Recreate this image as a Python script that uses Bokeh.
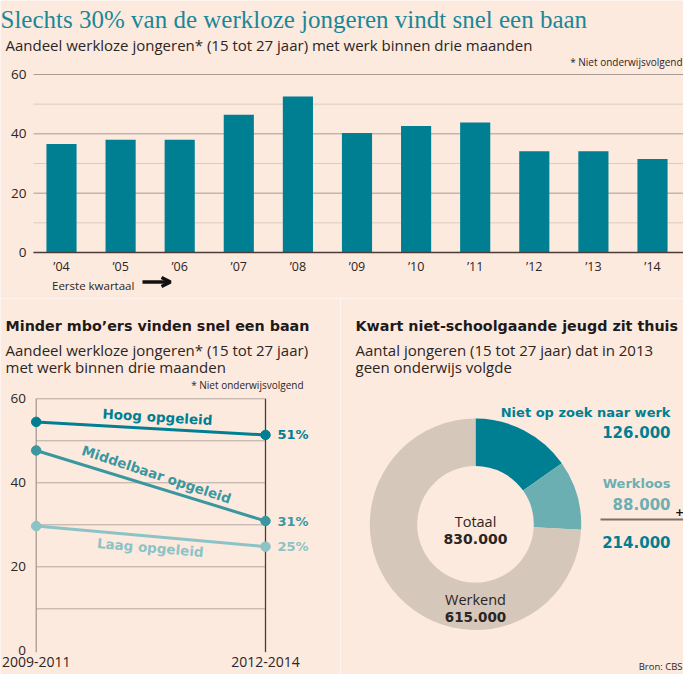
import math
from bokeh.plotting import figure
from bokeh.models import (ColumnDataSource, FixedTicker, Label, LabelSet, Arrow,
                          OpenHead, Range1d, LinearAxis, AllLabels)
from bokeh.layouts import column, row
from bokeh.embed import file_html
from bokeh.resources import INLINE
from bokeh.core.properties import value

# ---------------- data ----------------
years = ["’04", "’05", "’06", "’07", "’08", "’09", "’10", "’11", "’12", "’13", "’14"]
share = [36.6, 38.0, 38.0, 46.4, 52.6, 40.3, 42.6, 43.8, 34.1, 34.1, 31.5]
bar_ticks = [0, 20, 40, 60]
bar_minor_ticks = [10, 30, 50]

periods = ["2009-2011", "2012-2014"]
levels = ["Hoog opgeleid", "Middelbaar opgeleid", "Laag opgeleid"]
hoog = [54.5, 51.4]
middelbaar = [47.7, 30.9]
laag = [29.7, 24.8]
line_ticks = [0, 20, 40, 60]
line_grid = [10, 20, 30, 40, 50, 60]

groups = ["Niet op zoek naar werk", "Werkloos", "Werkend"]
counts = [126000, 88000, 615000]
total = 830000

# ---------------- style ----------------
BG = "#FDEADF"
TEAL = "#007F92"
TEAL_MID = "#3A979F"
TEAL_LIGHT = "#8CC3C6"
TEAL_SLICE = "#6BAFB3"
BEIGE = "#D5C7BA"
DARK = "#2B2523"
SANS = "Open Sans"
BOLD = "DejaVu Sans"
SERIF = "Liberation Serif"


def fmt(n):
    return f"{n:,}".replace(",", ".")


def base_fig(xr, yr, w, h):
    f = figure(x_range=xr, y_range=yr, width=w, height=h, output_backend="svg",
               toolbar_location=None, x_axis_location=None, y_axis_location=None,
               min_border=0, background_fill_color=BG, border_fill_color=BG,
               outline_line_color=None)
    f.xgrid.grid_line_color = None
    f.ygrid.grid_line_color = None
    return f


def style_axis(ax, size, standoff):
    ax.axis_line_color = None
    ax.major_tick_line_color = None
    ax.minor_tick_line_color = None
    ax.major_tick_out = 0
    ax.major_tick_in = 0
    ax.minor_tick_out = 0
    ax.minor_tick_in = 0
    ax.major_label_text_font = SANS
    ax.major_label_text_font_size = size
    ax.major_label_text_color = DARK
    ax.major_label_standoff = standoff
    ax.major_label_policy = AllLabels()


def lab(f, x, y, text, size, color=DARK, font=SANS, bold=False, align="left",
        baseline="alphabetic", angle=0.0, units="screen"):
    f.add_layout(Label(x=x, y=y, x_units=units, y_units=units, text=text, text_font=font,
                       text_font_size=size, text_font_style="bold" if bold else "normal",
                       text_color=color, text_align=align, text_baseline=baseline,
                       angle=angle))


# ================= top: bar chart (683 x 298) =================
W1, H1 = 683, 298
X0, DX = 61.0, 59.1            # pixel of first bar centre, pixels per bar slot
Y0, DY = 252.0, 178.0 / 60     # pixel of zero line, pixels per percentage point
xr1 = Range1d(-X0 / DX, (W1 - X0) / DX)
yr1 = Range1d(-(H1 - Y0) / DY, Y0 / DY)
p1 = base_fig(xr1, yr1, W1, H1)
xs1 = list(range(len(years)))
x_axis_pos = (33 - X0) / DX

# gridlines
p1.segment(x0=[x_axis_pos] * len(bar_minor_ticks), x1=[xr1.end] * len(bar_minor_ticks),
           y0=bar_minor_ticks, y1=bar_minor_ticks, line_color="#DCCBBF", line_width=1)
p1.segment(x0=[x_axis_pos] * len(bar_ticks), x1=[xr1.end] * len(bar_ticks),
           y0=bar_ticks, y1=bar_ticks, line_color="#A89C93", line_width=1)
p1.vbar(x=xs1, top=share, width=0.51, fill_color=TEAL, line_color=None)

ya = LinearAxis(ticker=FixedTicker(ticks=bar_ticks), fixed_location=x_axis_pos, bounds=(0, 60))
style_axis(ya, "13.5px", 7)
p1.add_layout(ya, "left")
xa = LinearAxis(ticker=FixedTicker(ticks=xs1), fixed_location=0,
                bounds=(x_axis_pos, xr1.end),
                major_label_overrides={i: y for i, y in zip(xs1, years)})
style_axis(xa, "12.5px", 5)
xa.axis_line_color = "#4A3D37"
xa.axis_line_width = 1.6
p1.add_layout(xa, "below")

lab(p1, 0, H1 - 18.5, "Slechts 30% van de werkloze jongeren vindt snel een baan",
    "25px", "#1A8797", font=SERIF)
lab(p1, 5, H1 - 44, "Aandeel werkloze jongeren* (15 tot 27 jaar) met werk binnen drie maanden",
    "15px")
lab(p1, 682, H1 - 61, "* Niet onderwijsvolgend", "10px", align="right")
lab(p1, 51.5, H1 - 284.5, "Eerste kwartaal", "11.5px")
p1.add_layout(Arrow(x_start=142, y_start=H1 - 281.5, x_end=170, y_end=H1 - 281.5,
                    start_units="screen", end_units="screen", line_width=3.4,
                    line_color="#111111",
                    end=OpenHead(size=9, line_width=3.4, line_color="#111111")))

# ================= bottom left: line chart (340 x 376) =================
W2, H2, TOP2 = 340, 376, 298
LX0, LDX = 35.7, 229.3           # pixel of first period, pixels between periods
LY0, LDY = 650.3 - TOP2, 4.2     # pixel (local) of zero, pixels per point
xr2 = Range1d(-LX0 / LDX, (W2 - LX0) / LDX)
yr2 = Range1d(-(H2 - LY0) / LDY, LY0 / LDY)
p2 = base_fig(xr2, yr2, W2, H2)
xs = list(range(len(periods)))

p2.segment(x0=[xs[0]] * len(line_grid), x1=[xs[-1]] * len(line_grid), y0=line_grid,
           y1=line_grid, line_color="#B3A79E", line_width=1)
p2.segment(x0=[xs[0]], x1=[xs[0]], y0=[-0.33], y1=[line_ticks[-1]], line_color="#A0948B",
           line_width=1.2)
p2.segment(x0=[xs[-1]], x1=[xs[-1]], y0=[-0.33], y1=[line_ticks[-1]], line_color="#4A3D37",
           line_width=1.3)

series = [(hoog, TEAL), (middelbaar, TEAL_MID), (laag, TEAL_LIGHT)]
for vals, col in series:
    p2.line(xs, vals, line_color=col, line_width=3)
    p2.scatter(xs, vals, size=9.5, fill_color=col, line_color=col)

ends = [hoog[-1], middelbaar[-1], laag[-1]]
end_src = ColumnDataSource(dict(x=[xs[-1]] * 3, y=ends, t=[f"{round(v)}%" for v in ends],
                                c=[TEAL, TEAL_MID, TEAL_LIGHT]))
p2.add_layout(LabelSet(x="x", y="y", text="t", source=end_src, x_offset=12,
                       text_color="c", text_font=value(BOLD), text_font_style="bold",
                       text_font_size=value("13px"), text_baseline="middle"))

name_pos = [(0.529, 55.7, -0.06, TEAL), (0.525, 42.0, -0.32, TEAL_MID),
            (0.498, 24.6, -0.085, TEAL_LIGHT)]
for name, (lx, ly, ang, col) in zip(levels, name_pos):
    lab(p2, lx, ly, name, "13.5px", col, font=BOLD, bold=True, align="center",
        baseline="middle", angle=ang, units="data")

ya2 = LinearAxis(ticker=FixedTicker(ticks=line_ticks), fixed_location=-0.001,
                 bounds=(-0.5, line_ticks[-1] + 0.5))
style_axis(ya2, "13.5px", 10)
p2.add_layout(ya2, "left")
xa2 = LinearAxis(ticker=FixedTicker(ticks=xs), fixed_location=-0.8, bounds=(xs[0], xs[-1]),
                 major_label_overrides={i: s for i, s in zip(xs, periods)})
style_axis(xa2, "14px", 3)
p2.add_layout(xa2, "below")

lab(p2, 5, 674 - 325, "Minder mbo’ers vinden snel een baan", "14.3px", "#1E1A19",
    font=BOLD, bold=True)
lab(p2, 5, 674 - 349.3, "Aandeel werkloze jongeren* (15 tot 27 jaar)", "15px")
lab(p2, 5, 674 - 366, "met werk binnen drie maanden", "15px")
lab(p2, 303, 674 - 384, "* Niet onderwijsvolgend", "10px", align="right")

# ================= bottom right: donut (343 x 376) =================
CX, CY = 475, 523.8
p3 = base_fig(Range1d(340 - CX, 683 - CX), Range1d(CY - 674, CY - 298), 343, 376)

ssum = sum(counts)
cum = [0]
for c in counts:
    cum.append(cum[-1] + c)
starts = [math.pi / 2 - 2 * math.pi * cum[i] / ssum for i in range(len(counts))]
stops = [math.pi / 2 - 2 * math.pi * cum[i + 1] / ssum for i in range(len(counts))]
donut = ColumnDataSource(dict(g=groups, v=counts, s=starts, e=stops,
                              c=[TEAL, TEAL_SLICE, BEIGE]))
p3.annular_wedge(x=0, y=0, inner_radius=58.3, outer_radius=105.7, start_angle="s",
                 end_angle="e", direction="clock", fill_color="c", line_color=None,
                 source=donut)
p3.segment(x0=[600 - CX], x1=[683 - CX], y0=[CY - 519], y1=[CY - 519],
           line_color="#7D6F67", line_width=2)


def t3(x, y, text, size, color=DARK, bold=False, align="left", baseline="alphabetic"):
    lab(p3, x - CX, CY - y, text, size, color, font=BOLD if bold else SANS, bold=bold,
        align=align, baseline=baseline, units="data")


t3(355, 325, "Kwart niet-schoolgaande jeugd zit thuis", "14.3px", "#1E1A19", bold=True)
t3(355, 349.3, "Aantal jongeren (15 tot 27 jaar) dat in 2013", "15px")
t3(355, 366, "geen onderwijs volgde", "15px")
t3(670, 411.7, groups[0], "13px", TEAL, bold=True, align="right")
t3(670, 431.7, fmt(counts[0]), "15px", TEAL, bold=True, align="right")
t3(670, 483.3, groups[1], "13px", TEAL_SLICE, bold=True, align="right")
t3(670, 503.3, fmt(counts[1]), "15px", TEAL_SLICE, bold=True, align="right")
t3(670, 541.7, fmt(counts[0] + counts[1]), "15px", TEAL, bold=True, align="right")
t3(679, 511, "+", "11px", "#111111", bold=True, align="center", baseline="middle")
t3(CX, 520.7, "Totaal", "14.5px", align="center")
t3(CX, 538.3, fmt(total), "14px", bold=True, align="center")
t3(CX, 599.3, groups[2], "14.5px", align="center")
t3(CX, 616.7, fmt(counts[2]), "13.5px", bold=True, align="center")
t3(682, 666, "Bron: CBS", "9.5px", align="right")

layout = column(p1, row(p2, p3, spacing=0), spacing=0)
open("out.html", "w").write(file_html(layout, INLINE))
